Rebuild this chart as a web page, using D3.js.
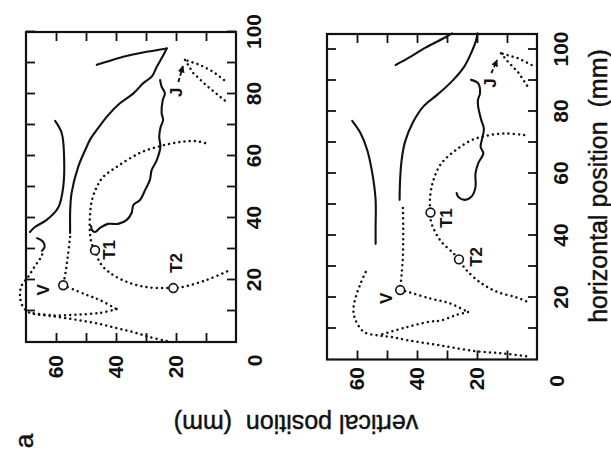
<!DOCTYPE html>
<html lang="en">
<head>
<meta charset="utf-8">
<title>contours</title>
<script src="https://cdn.jsdelivr.net/npm/d3@7"></script>
<style>
  body { margin: 0; background: #fff; }
  svg { display: block; }
  text { font-family: "Liberation Sans", Arial, sans-serif; fill: #111; }
  .tick text { font-weight: bold; font-size: 21px; }
  .mark { font-weight: bold; font-size: 17px; }
  .title { font-size: 25px; white-space: pre; stroke: #111; stroke-width: 0.45px; }
</style>
</head>
<body>
<script>
// every point is [horizontal position mm, vertical position mm]
var hTicks = [10, 20, 30, 40, 50, 60, 70, 80, 90, 100];
var hLabels = [20, 40, 60, 80, 100];
var vTicks = [10, 20, 30, 40, 50, 60];
var vLabels = [20, 40, 60];

// first panel
var p1Outer = [[71.3,60.3],[67.4,58.1],[59.7,57.3],[50,57.6],[43.5,59.2],[39.4,63.1],[37.1,67],[35.5,68.7]];
var p1Hook = [[33.5,66.3],[32.3,64.3],[30.6,63.8],[29.4,64.7]];
var p1TongueUp = [[94.7,23.1],[93.6,29.8],[92.0,37.6],[90.4,43.1],[89.4,46.4]];
var p1TongueLow = [[94.7,23.1],[92.6,24.2],[88.8,26.4],[85.6,28.1],[83.5,30.9],[80.2,34.2],[77,38.7],[73.2,42.6],[68.4,46.4],[65.2,48.7],[62.9,49.8],[56.5,52.6],[48.1,54.8],[41.6,55.3],[37.1,55.3],[35.2,55.3]];
var p1Wavy = [[84.5,25.3],[82.4,24.8],[80.2,23.7],[78.1,24.4],[73.9,24.8],[71.6,24.3],[69.4,25.1],[66.2,25.6],[63,25.2],[58.7,26.4],[55.5,28.1],[52.3,28.7],[49,30.3],[45.8,32],[44.2,34.2],[41.6,34.8],[39.4,36.4],[38.1,39.3],[38.1,42.7],[36.8,45.3],[35.5,47],[36.1,48],[37.4,48.3]];
var p1DotDown = [[33.9,55.3],[28.1,56],[23.2,56.7],[18.3,57.6]];
var p1DotTip = [[18.3,57.6],[15.2,49.8],[13.5,45.3],[10.6,39.8]];
var p1DotBack = [[10.6,39.8],[9.4,45.3],[8.8,53.1],[8.6,60.9],[9.4,68.7]];
var p1DotOuter = [[0.3,23.1],[1.6,28.7],[3.2,34.3],[4.5,39.8],[5.8,45.3],[6.8,51],[7.7,56.7],[8.4,62],[9,67],[9.7,69.3],[11.9,71.3],[15.2,72],[18.1,71.5],[21,69.3],[24.5,67],[27.4,65],[29.7,64]];
var p1DotT = [[64.2,10.3],[64.8,13.7],[64.5,18.7],[63.2,25.3],[61,32],[56.8,39.3],[53.2,44.3],[50,46.4],[45.8,48],[40.3,48.7],[35.5,48.7],[31.7,48.1],[29.6,47],[25.5,45.3],[22.3,42],[19.4,36.4],[17.7,29.8],[17.4,23.1],[17.4,20.9],[17.8,17.6],[20,9.8],[23.2,2]];
var p1DotJa = [[84.5,4],[87.2,7.6],[89.4,12],[91,17]];
var p1DotJb = [[91,17],[86.8,14.3],[82.6,9.7],[77.1,2.7]];
var p1Circles = [[18.3,57.6],[29.6,47],[17.4,20.9]];
var p1Labels = [{t:"V", h:16.8, v:64.3}, {t:"T1", h:29.7, v:42.3}, {t:"T2", h:25.5, v:20}, {t:"J", h:80.6, v:20}];
var p1Arrow = [[83.9,19.2],[89,17.7]];

// second panel
var p2Outer = [[77,61.6],[73,58.8],[67.6,56.6],[60.1,54.9],[51.5,53.8],[42.7,53.8],[37.3,53.8]];
var p2Top = [[95,47.1],[97.2,43],[100.5,37.3],[104.1,30.2],[105.2,28.3]];
var p2Tongue = [[105.2,19.8],[102.4,20.5],[99.2,21.8],[94.4,24.3],[89.8,28.3],[85.6,33],[81.8,37.7],[76.6,41.3],[70.2,44],[63.7,45.2],[56.3,45.7],[51.5,45.8]];
var p2Wavy = [[90.2,22],[89.1,19.6],[85.9,19],[83.7,19.7],[81.5,19.6],[77.3,18.6],[74.4,17.7],[70.8,18.4],[68.6,18.8],[66.5,17.9],[63.3,19.6],[60.1,20.5],[55.6,20.5],[52.7,21.7],[51.5,24],[52.4,26.2],[53.7,26.8]];
var p2DotDown = [[48.9,44.7],[43.4,44.6],[38.5,44.6],[33.2,44.7],[27.8,45.1],[22.4,45.6]];
var p2DotTip = [[22.4,45.6],[21.9,43.4],[19.7,35.7],[18.1,29],[15.3,23]];
var p2DotBack = [[15.3,23],[14.4,26.8],[12.6,31.9],[12.2,35.7],[10.3,44],[7.9,52.3]];
var p2DotOuter = [[28.2,57.1],[24.5,58.8],[20.2,60.4],[16,61.2],[12.7,60.5],[8.9,57.7],[7.8,53.2],[7.3,48.8],[6.2,43],[4.5,32],[2.7,20.7],[1.9,10.7],[0.8,2]];
var p2DotT = [[72.4,4.3],[72.9,10.7],[72.3,16.3],[70.8,21.7],[67.6,27],[63.1,32],[57.3,34.7],[51.5,35.7],[47.4,35.5],[44.4,35.3],[38.5,32.3],[34.3,27.9],[32.3,26],[29,23.7],[24.7,18.7],[21.8,13.2],[20,6.7],[18.5,3]];
var p2DotJa = [[95,1.8],[97.2,6.3],[98.8,12]];
var p2DotJb = [[98.8,12],[96.1,9.7],[92.7,6.3],[88.2,3.2]];
var p2Circles = [[22.4,45.6],[47.4,35.5],[32.3,26]];
var p2Labels = [{t:"V", h:19.7, v:50.3}, {t:"T1", h:45.6, v:30.3}, {t:"T2", h:33.1, v:20.5}, {t:"J", h:89.2, v:15.7}];
var p2Arrow = [[92.4,15.2],[96.6,13.3]];

var W = 611, H = 454;
var svg = d3.select("body").append("svg").attr("width", W).attr("height", H);
svg.append("rect").attr("width", W).attr("height", H).attr("fill", "#fff");

svg.append("defs").append("marker")
    .attr("id", "head").attr("viewBox", "0 0 10 10")
    .attr("refX", 9).attr("refY", 5)
    .attr("markerWidth", 7).attr("markerHeight", 7)
    .attr("markerUnits", "userSpaceOnUse")
    .attr("orient", "auto")
  .append("path").attr("d", "M0,0L10,5L0,10Z").attr("fill", "#111");

// the printed figure is turned a quarter turn, so draw it upright and rotate
var page = svg.append("g").attr("transform", "translate(0," + H + ") rotate(-90)");

var panels = [
  { x: d3.scaleLinear().domain([0, 100]).range([112, 422]),
    y: d3.scaleLinear().domain([0, 70]).range([236, 26]),
    padB: 10.5, padL: 13, zero: [-18.3, 18],
    solid: [p1Outer, p1Hook, p1TongueUp, p1TongueLow, p1Wavy],
    dotted: [p1DotDown, p1DotTip, p1DotBack, p1DotOuter, p1DotT],
    straight: [p1DotJa, p1DotJb],
    circles: p1Circles, labels: p1Labels, arrow: p1Arrow },
  { x: d3.scaleLinear().domain([0, 105]).range([94.5, 420]),
    y: d3.scaleLinear().domain([0, 70]).range([537, 327]),
    padB: 16.5, padL: 7.5, zero: [-21.5, 19],
    solid: [p2Outer, p2Top, p2Tongue, p2Wavy],
    dotted: [p2DotDown, p2DotTip, p2DotBack, p2DotOuter, p2DotT],
    straight: [p2DotJa, p2DotJb],
    circles: p2Circles, labels: p2Labels, arrow: p2Arrow }
];

function drawPanel(p) {
  var x = p.x, y = p.y;
  var g = page.append("g");
  var xr = x.range(), yr = y.range();

  g.append("g").attr("transform", "translate(0," + yr[0] + ")")
    .call(d3.axisBottom(x).tickValues(hTicks).tickSizeInner(-9).tickSizeOuter(0)
      .tickPadding(p.padB).tickFormat(function(d) { return hLabels.indexOf(d) >= 0 ? d : ""; }));
  g.append("g").attr("transform", "translate(0," + yr[1] + ")")
    .call(d3.axisTop(x).tickValues(hTicks).tickSizeInner(-9).tickSizeOuter(0).tickFormat(""));
  g.append("g").attr("transform", "translate(" + xr[0] + ",0)")
    .call(d3.axisLeft(y).tickValues(vTicks).tickSizeInner(-9).tickSizeOuter(0)
      .tickPadding(p.padL).tickFormat(function(d) { return vLabels.indexOf(d) >= 0 ? d : ""; }));
  g.append("g").attr("transform", "translate(" + xr[1] + ",0)")
    .call(d3.axisRight(y).tickValues(vTicks).tickSizeInner(-9).tickSizeOuter(0).tickFormat(""));
  g.selectAll(".domain").remove();
  g.selectAll(".tick line").attr("stroke", "#111").attr("stroke-width", 1.8);

  g.append("rect")
    .attr("x", xr[0]).attr("y", yr[1])
    .attr("width", xr[1] - xr[0]).attr("height", yr[0] - yr[1])
    .attr("fill", "none").attr("stroke", "#111").attr("stroke-width", 2.2);

  // shared origin label
  g.append("text")
    .attr("x", x(0) + p.zero[0]).attr("y", y(0) + p.zero[1])
    .attr("text-anchor", "middle").attr("dy", "0.36em")
    .style("font-weight", "bold").style("font-size", "21px")
    .text("0");

  var smooth = d3.line().x(function(d) { return x(d[0]); }).y(function(d) { return y(d[1]); })
    .curve(d3.curveCatmullRom.alpha(0.5));
  var linear = d3.line().x(function(d) { return x(d[0]); }).y(function(d) { return y(d[1]); });

  g.selectAll(".solid").data(p.solid).enter().append("path")
    .attr("d", smooth).attr("fill", "none")
    .attr("stroke", "#111").attr("stroke-width", 2.1).attr("stroke-linecap", "round");

  g.selectAll(".dotted").data(p.dotted.concat(p.straight)).enter().append("path")
    .attr("d", function(d, i) { return i < p.dotted.length ? smooth(d) : linear(d); })
    .attr("fill", "none").attr("stroke", "#111").attr("stroke-width", 2.5)
    .attr("stroke-linecap", "round").attr("stroke-dasharray", "0.01 5.2");

  g.append("path").datum(p.arrow).attr("d", linear)
    .attr("fill", "none").attr("stroke", "#111").attr("stroke-width", 1.9)
    .attr("stroke-dasharray", "4 2.5").attr("marker-end", "url(#head)");

  g.selectAll(".pt").data(p.circles).enter().append("circle")
    .attr("cx", function(d) { return x(d[0]); }).attr("cy", function(d) { return y(d[1]); })
    .attr("r", 4.4).attr("fill", "#fff").attr("stroke", "#111").attr("stroke-width", 1.6);

  g.selectAll(".mark").data(p.labels).enter().append("text")
    .attr("class", "mark")
    .attr("x", function(d) { return x(d.h); }).attr("y", function(d) { return y(d.v); })
    .attr("text-anchor", "middle").attr("dy", "0.36em")
    .text(function(d) { return d.t; });
}

panels.forEach(drawPanel);

page.append("text").attr("class", "title")
  .attr("x", 268).attr("y", 607).attr("text-anchor", "middle")
  .text("horizontal position  (mm)");

page.append("text").attr("class", "title")
  .attr("transform", "translate(39,296) rotate(-90)").attr("text-anchor", "middle")
  .text("vertical position  (mm)");

page.append("text").attr("class", "title")
  .attr("x", 13).attr("y", 33).attr("text-anchor", "middle")
  .style("font-size", "26px")
  .text("a");
</script>
</body>
</html>
